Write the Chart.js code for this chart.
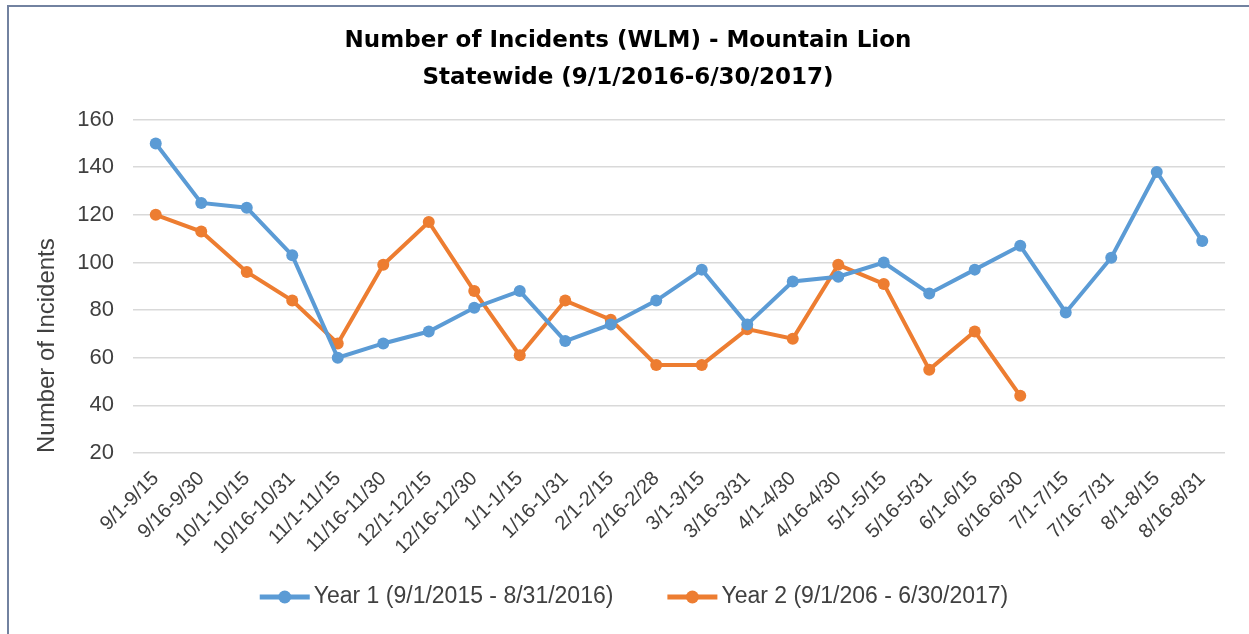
<!DOCTYPE html>
<html>
<head>
<meta charset="utf-8">
<script src="https://cdn.jsdelivr.net/npm/chart.js@4.4.1/dist/chart.umd.min.js"></script>
<style>
    html, body { margin: 0; padding: 0; background: #fff; overflow: hidden; }
    #frame {
        position: absolute; left: 7px; top: 5px; width: 1300px; height: 700px;
        border-top: 2px solid #7282a0; border-left: 2px solid #7282a0;
        pointer-events: none;
    }
    #chart { position: absolute; left: 0; top: 0; }
</style>
</head>
<body>
<canvas id="chart" width="1249" height="634"></canvas>
<div id="frame"></div>
<script>
// Periodlar (yarım aylık)
const periods = [
    '9/1-9/15', '9/16-9/30', '10/1-10/15', '10/16-10/31', '11/1-11/15', '11/16-11/30',
    '12/1-12/15', '12/16-12/30', '1/1-1/15', '1/16-1/31', '2/1-2/15', '2/16-2/28',
    '3/1-3/15', '3/16-3/31', '4/1-4/30', '4/16-4/30', '5/1-5/15', '5/16-5/31',
    '6/1-6/15', '6/16-6/30', '7/1-7/15', '7/16-7/31', '8/1-8/15', '8/16-8/31'
];

// Seriler
const year1 = [150, 125, 123, 103, 60, 66, 71, 81, 88, 67, 74, 84,
               97, 74, 92, 94, 100, 87, 97, 107, 79, 102, 138, 109];
const year2 = [120, 113, 96, 84, 66, 99, 117, 88, 61, 84, 76, 57,
               57, 72, 68, 99, 91, 55, 71, 44, null, null, null, null];

const seriesNames = ['Year 1 (9/1/2015 - 8/31/2016)', 'Year 2 (9/1/206 - 6/30/2017)'];
const seriesColors = ['#5B9BD5', '#ED7D31'];

// Y ekseni
const yMin = 20;
const yMax = 160;
const yStep = 20;

const titleLines = ['Number of Incidents (WLM) - Mountain Lion', 'Statewide (9/1/2016-6/30/2017)'];
const yTitle = 'Number of Incidents';

const textColor = '#404040';

// Alttaki lejant: çizgi + nokta işareti, ardından seri adı
const lineLegend = {
    id: 'lineLegend',
    afterDraw(chart) {
        const ctx = chart.ctx;
        const font = '23px "Liberation Sans"';
        const markerW = 50, markerGap = 4, itemGap = 54;
        const y = 597;
        ctx.save();
        ctx.font = font;
        const items = chart.data.datasets.map(ds => ({
            text: ds.label,
            color: ds.borderColor,
            width: markerW + markerGap + ctx.measureText(ds.label).width
        }));
        const total = items.reduce((sum, it) => sum + it.width, 0) + itemGap * (items.length - 1);
        let x = 634 - total / 2;
        items.forEach(it => {
            ctx.strokeStyle = it.color;
            ctx.fillStyle = it.color;
            ctx.lineWidth = 5;
            ctx.beginPath();
            ctx.moveTo(x, y);
            ctx.lineTo(x + markerW, y);
            ctx.stroke();
            ctx.beginPath();
            ctx.arc(x + markerW / 2, y, 6.5, 0, Math.PI * 2);
            ctx.fill();
            ctx.fillStyle = textColor;
            ctx.textBaseline = 'middle';
            ctx.textAlign = 'left';
            ctx.fillText(it.text, x + markerW + markerGap, y);
            x += it.width + itemGap;
        });
        ctx.restore();
    }
};

new Chart(document.getElementById('chart'), {
    type: 'line',
    data: {
        labels: periods,
        datasets: [year1, year2].map((values, i) => ({
            label: seriesNames[i],
            data: values,
            borderColor: seriesColors[i],
            backgroundColor: seriesColors[i],
            borderWidth: 4,
            pointRadius: 6,
            pointHoverRadius: 6,
            pointBorderWidth: 0,
            tension: 0,
            fill: false
        }))
    },
    options: {
        responsive: false,
        animation: false,
        devicePixelRatio: 1,
        layout: {
            padding: { top: 0, right: 24, bottom: 81, left: 31 }
        },
        plugins: {
            title: {
                display: true,
                text: titleLines,
                color: '#000',
                font: { family: 'DejaVu Sans', size: 23, weight: 'bold', lineHeight: 1.6 },
                padding: { top: 23, bottom: 23 }
            },
            legend: { display: false },
            tooltip: { enabled: false }
        },
        scales: {
            x: {
                offset: true,
                grid: { display: false },
                border: { display: false },
                ticks: {
                    autoSkip: false,
                    minRotation: 45,
                    maxRotation: 45,
                    padding: 6,
                    color: textColor,
                    font: { family: 'Liberation Sans', size: 20 }
                },
                afterFit: scale => { scale.height = 100; }
            },
            y: {
                min: yMin,
                max: yMax,
                border: { display: false },
                grid: { color: '#d9d9d9', lineWidth: 1.5, drawTicks: false },
                ticks: {
                    stepSize: yStep,
                    padding: 19,
                    color: textColor,
                    font: { family: 'Liberation Sans', size: 22 }
                },
                title: {
                    display: true,
                    text: yTitle,
                    align: 'start',
                    color: textColor,
                    font: { family: 'Liberation Sans', size: 24 },
                    padding: { top: 2, bottom: 0 }
                },
                afterFit: scale => { scale.width = 102; }
            }
        }
    },
    plugins: [lineLegend]
});
</script>
</body>
</html>
